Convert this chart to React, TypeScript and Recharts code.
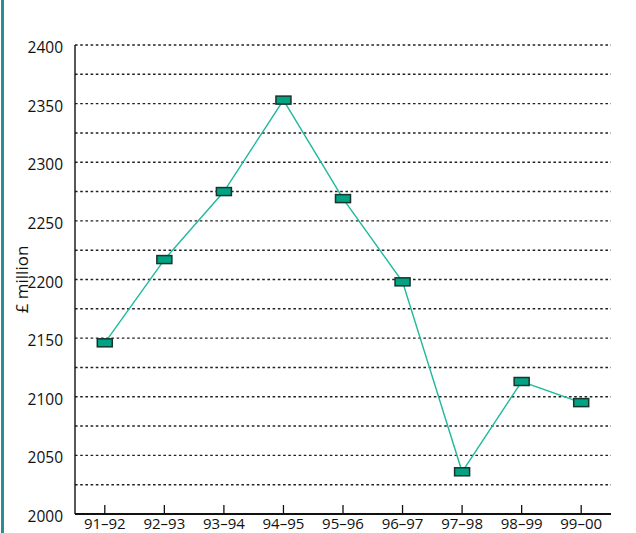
import { LineChart, Line, XAxis, YAxis, CartesianGrid } from "recharts";

const years = ["91–92", "92–93", "93–94", "94–95", "95–96", "96–97", "97–98", "98–99", "99–00"];
const spending = [2146, 2217, 2275, 2353, 2269, 2198, 2036, 2113, 2095];
const yTicks = [2000, 2025, 2050, 2075, 2100, 2125, 2150, 2175, 2200, 2225, 2250, 2275, 2300, 2325, 2350, 2375, 2400];

const data = years.map((year, i) => ({ year, value: spending[i] }));

const FONT = "'Open Sans', 'Noto Sans', sans-serif";
const AXIS_Y = 514;

// small flat box used as the point marker
const BoxDot = (props: any) => {
  const { cx, cy, index } = props;
  if (cx == null || cy == null) return null;
  return (
    <rect
      key={index}
      x={cx - 7.5}
      y={cy - 4}
      width={15}
      height={8}
      fill="#00a383"
      stroke="#17352c"
      strokeWidth={1.5}
    />
  );
};

// x ticks point up into the plot, label sits under the axis
const YearTick = (props: any) => {
  const { x, payload } = props;
  return (
    <g>
      <line x1={x} y1={AXIS_Y - 1} x2={x} y2={AXIS_Y - 9} stroke="#111" strokeWidth={1.3} />
      <text x={x} y={AXIS_Y + 14.5} textAnchor="middle" fontSize={15} fill="#111" fontFamily={FONT}>
        {payload.value}
      </text>
    </g>
  );
};

// y labels only on the 50s, sitting a touch below their grid line
const ValueTick = (props: any) => {
  const { x, y, payload } = props;
  if (payload.value % 50 !== 0) return null;
  return (
    <text x={x} y={y + 8} textAnchor="end" fontSize={15.5} fill="#111" fontFamily={FONT}>
      {payload.value}
    </text>
  );
};

export default function App() {
  return (
    <div style={{ position: "absolute", left: 0, top: 0, width: 636, height: 533, background: "#fff" }}>
      <div style={{ position: "absolute", left: 1, top: 0, width: 3, height: 533, background: "#2b8b96" }} />
      <LineChart
        width={636}
        height={533}
        data={data}
        margin={{ top: 45, right: 25, left: 0, bottom: 0 }}
      >
        <CartesianGrid
          vertical={false}
          stroke="#222"
          strokeWidth={1.4}
          strokeDasharray="2.6 2.6"
        />
        <XAxis
          dataKey="year"
          height={19}
          padding={{ left: 29.8, right: 29.8 }}
          axisLine={{ stroke: "#111", strokeWidth: 2.2 }}
          tickLine={false}
          tick={<YearTick />}
          interval={0}
        />
        <YAxis
          width={75}
          domain={[2000, 2400]}
          ticks={yTicks}
          interval={0}
          tickLine={false}
          axisLine={{ stroke: "#111", strokeWidth: 1.4 }}
          tick={<ValueTick />}
          tickMargin={6}
          label={{
            value: "£ million",
            angle: -90,
            position: "insideLeft",
            offset: 22,
            style: { fontSize: 17, fill: "#111", fontFamily: FONT, textAnchor: "middle" },
          }}
        />
        <Line
          dataKey="value"
          stroke="#1fb99b"
          strokeWidth={1.4}
          dot={<BoxDot />}
          activeDot={false}
          isAnimationActive={false}
        />
      </LineChart>
    </div>
  );
}
